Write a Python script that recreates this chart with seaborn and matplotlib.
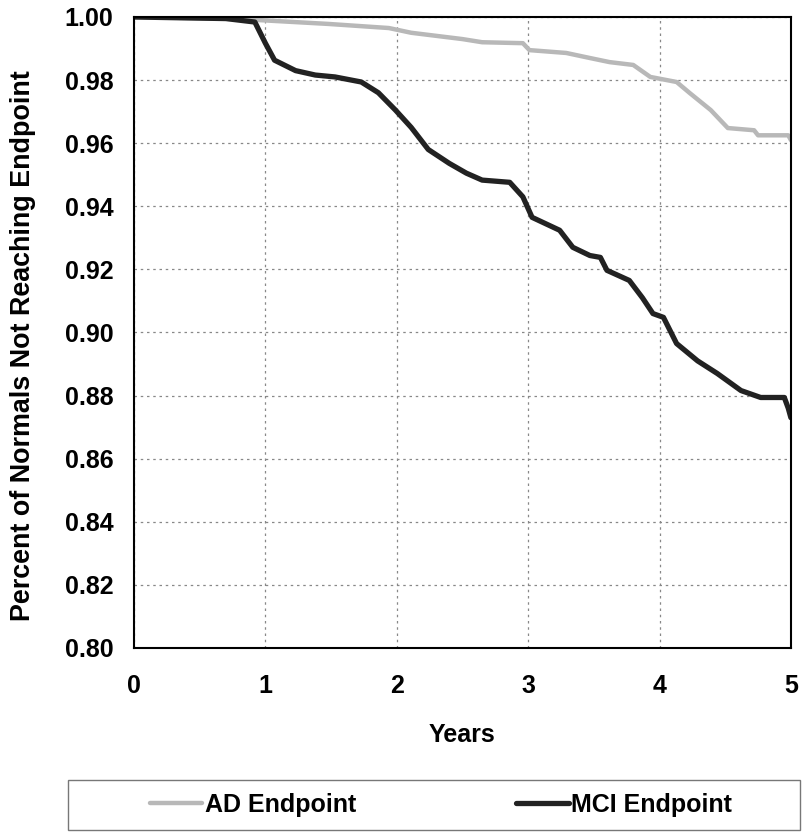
import matplotlib
matplotlib.use('Agg')
import matplotlib.pyplot as plt
from matplotlib.patches import Rectangle
import seaborn as sns
import pandas as pd

sns.set_theme(style='white')
plt.rcParams['font.family'] = ['Liberation Sans', 'DejaVu Sans']
plt.rcParams['font.weight'] = 'bold'
plt.rcParams['text.color'] = 'black'
plt.rcParams['axes.labelcolor'] = 'black'
plt.rcParams['xtick.color'] = 'black'
plt.rcParams['ytick.color'] = 'black'

# 读数：年份 与 未达终点比例
mci_years = [0, 0.70, 0.92, 1.00, 1.07, 1.23, 1.38, 1.53, 1.73, 1.86, 1.99, 2.11, 2.24,
             2.40, 2.53, 2.65, 2.86, 2.96, 3.03, 3.24, 3.34, 3.47, 3.55, 3.60, 3.77,
             3.87, 3.95, 4.03, 4.13, 4.29, 4.44, 4.62, 4.77, 4.95, 4.98, 5.00]
mci_vals = [1.000, 0.9995, 0.9984, 0.9917, 0.9863, 0.9830, 0.9816, 0.9810, 0.9794, 0.9760,
            0.9705, 0.9650, 0.9580, 0.9536, 0.9505, 0.9483, 0.9476, 0.9430, 0.9365, 0.9324,
            0.9270, 0.9244, 0.9238, 0.9197, 0.9165, 0.9110, 0.9060, 0.9048, 0.8965, 0.8910,
            0.8870, 0.8816, 0.8794, 0.8794, 0.8760, 0.8730]

ad_years = [0, 0.66, 0.96, 1.48, 1.94, 2.11, 2.50, 2.65, 2.96, 3.01, 3.29, 3.47, 3.62,
            3.80, 3.93, 4.13, 4.23, 4.39, 4.52, 4.72, 4.75, 4.98, 5.00]
ad_vals = [1.000, 0.9995, 0.9990, 0.9978, 0.9965, 0.9950, 0.9930, 0.9920, 0.9917, 0.9895,
           0.9886, 0.9870, 0.9857, 0.9848, 0.9810, 0.9794, 0.9759, 0.9705, 0.9648, 0.9641,
           0.9625, 0.9625, 0.9610]

ad = pd.DataFrame({'Years': ad_years, 'val': ad_vals})
mci = pd.DataFrame({'Years': mci_years, 'val': mci_vals})

fig = plt.figure(figsize=(8.12, 8.33), dpi=100)
ax = fig.add_axes([0.165, 0.2221, 0.809, 0.7575])

sns.lineplot(data=ad, x='Years', y='val', ax=ax, color='#b8b8b8', lw=3.2,
             label='AD Endpoint', legend=False)
sns.lineplot(data=mci, x='Years', y='val', ax=ax, color='#222222', lw=3.8,
             label='MCI Endpoint', legend=False)

ax.set_xlim(0, 5)
ax.set_ylim(0.80, 1.00)
ax.set_xticks(range(6))
ax.set_yticks([0.80 + 0.02 * i for i in range(11)])
ax.set_yticklabels([f'{0.80 + 0.02 * i:.2f}' for i in range(11)])
ax.tick_params(labelsize=18, length=5, width=1, direction='out')
ax.tick_params(axis='x', pad=14)
ax.tick_params(axis='y', pad=10)
for lab in ax.get_xticklabels() + ax.get_yticklabels():
    lab.set_fontweight('bold')
ax.grid(True, color='#888888', linestyle=(0, (2, 3)), lw=0.9)
for s in ax.spines.values():
    s.set_color('black')
    s.set_linewidth(1.5)
ax.set_xlabel('Years', fontsize=18, fontweight='bold', labelpad=18)
ax.set_ylabel('Percent of Normals Not Reaching Endpoint', fontsize=19.4,
              fontweight='bold')
ax.yaxis.set_label_coords(-0.149, 0.479)

# 图例外框
fig.patches.append(Rectangle((68 / 812, 1 - 830 / 833), 732 / 812, 50 / 833,
                             transform=fig.transFigure, fill=False,
                             edgecolor='#777777', lw=1.0))
handles, labels = ax.get_legend_handles_labels()
leg = fig.legend(handles, labels, loc='center left', ncol=2,
                 bbox_to_anchor=(150 / 812, 1 - 805 / 833), fontsize=18,
                 frameon=False, borderpad=0, borderaxespad=0,
                 handlelength=2.1, handletextpad=0.1, columnspacing=6.4)
for t in leg.get_texts():
    t.set_fontweight('bold')

fig.savefig('out.png', dpi=100)
